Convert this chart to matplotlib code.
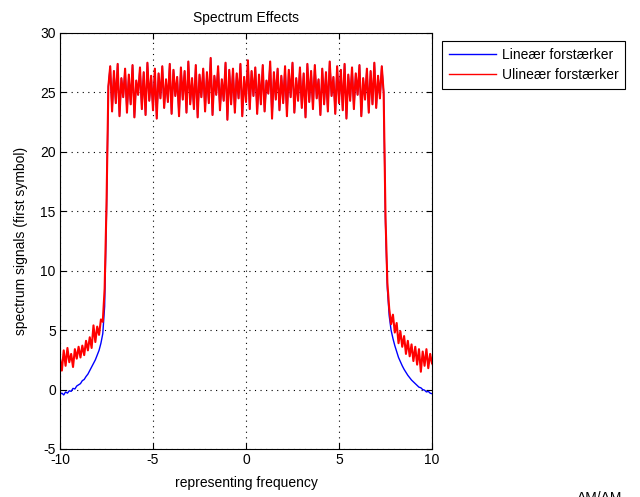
import numpy as np
import matplotlib
matplotlib.use("Agg")
import matplotlib.pyplot as plt

# frequency axis, step 0.1 from -10 to 10
freq = np.round(np.arange(-10.0, 10.05, 0.1), 1)

# lower skirt (-10.0 ... -7.5)
left_lin = [-0.4, -0.3, -0.45, -0.2, -0.3, -0.1, -0.15, 0.1, 0.05, 0.3,
            0.4, 0.5, 0.75, 0.85, 1.1, 1.3, 1.6, 1.9, 2.2, 2.5,
            2.9, 3.3, 3.9, 4.7, 7.0, 15.0]
left_nl = [2.6, 1.6, 3.3, 2.0, 3.5, 2.3, 3.0, 1.9, 3.4, 2.6,
           3.6, 2.7, 3.7, 2.9, 4.1, 3.3, 4.4, 3.5, 5.4, 4.0,
           5.3, 4.6, 5.9, 5.7, 8.5, 15.5]

# passband (-7.4 ... 7.4)
band = [25.5, 27.2, 23.4, 26.8, 24.1, 27.4, 23.0, 26.2, 24.6, 27.0,
        23.3, 26.5, 24.0, 27.3, 22.9, 26.0, 24.8, 27.1, 23.6, 26.7,
        23.1, 27.5, 24.3, 26.4, 23.5, 27.0, 22.8, 26.6, 24.5, 27.2,
        23.7, 26.1, 24.2, 27.4, 23.2, 26.9, 24.7, 26.3, 23.0, 27.1,
        24.4, 26.8, 23.3, 27.6, 24.0, 26.2, 23.6, 27.3, 22.9, 26.5,
        24.6, 27.0, 23.4, 26.7, 24.1, 27.9, 23.1, 26.4, 24.8, 27.2,
        23.5, 26.1, 24.3, 27.5, 22.7, 26.9, 24.0, 27.0, 23.3, 26.6,
        24.5, 27.4, 23.0, 26.3, 24.2, 27.7, 23.6, 26.8, 24.7, 27.1,
        23.2, 26.5, 24.0, 27.3, 23.4, 26.0, 24.9, 27.6, 22.8, 26.7,
        24.4, 27.0, 23.5, 26.4, 24.1, 27.2, 23.0, 26.9, 24.6, 27.5,
        23.3, 26.2, 24.3, 27.1, 23.7, 26.6, 22.9, 27.4, 24.2, 26.8,
        23.6, 27.3, 24.5, 26.1, 23.1, 27.0, 24.0, 26.7, 23.4, 27.6,
        24.7, 26.3, 23.2, 27.2, 24.1, 26.9, 23.5, 27.4, 22.8, 26.5,
        24.3, 27.1, 23.6, 26.6, 24.8, 27.3, 23.0, 26.2, 24.4, 27.0,
        23.3, 26.8, 24.0, 27.5, 23.7, 26.4, 24.5, 27.2, 25.0]

# upper skirt (7.5 ... 10.0)
right_lin = [14.0, 8.5, 6.2, 5.0, 4.3, 3.7, 3.2, 2.7, 2.35, 2.0,
             1.7, 1.45, 1.2, 1.0, 0.8, 0.65, 0.5, 0.35, 0.2, 0.15,
             0.0, -0.05, -0.2, -0.15, -0.3, -0.35]
right_nl = [14.5, 9.0, 6.8, 5.5, 6.3, 4.8, 5.6, 3.9, 4.9, 3.6,
            4.5, 3.0, 4.1, 2.8, 3.8, 2.4, 3.6, 2.1, 3.4, 1.5,
            3.2, 2.0, 3.4, 1.8, 3.0, 2.2]

linear = left_lin + band + right_lin
nonlinear = left_nl + band + right_nl

plt.rcParams['font.family'] = ['Liberation Sans', 'DejaVu Sans']
plt.rcParams['font.size'] = 10
plt.rcParams['axes.unicode_minus'] = False

fig = plt.figure(figsize=(6.4, 4.97), dpi=100)
ax = fig.add_axes([60/640, 1 - 449/497, 372/640, 416/497])

ax.plot(freq, linear, color='#0000ff', lw=1.0, label='Lineær forstærker')
ax.plot(freq, nonlinear, color='#ff0000', lw=1.5, label='Ulineær forstærker')

ax.set_xlim(-10, 10)
ax.set_ylim(-5, 30)
ax.set_xticks([-10, -5, 0, 5, 10])
ax.set_yticks([-5, 0, 5, 10, 15, 20, 25, 30])
ax.tick_params(direction='in', top=True, right=True, length=4, width=0.8,
               labelsize=10, pad=3)
ax.grid(True, color='black', linestyle=(0, (1, 4)), linewidth=0.8)
for s in ax.spines.values():
    s.set_linewidth(0.8)

ax.set_title("Spectrum Effects", fontsize=10, pad=8)
ax.set_xlabel("representing frequency", labelpad=6)
ax.set_ylabel("spectrum signals (first symbol)", labelpad=9)

leg = ax.legend(loc='upper left', bbox_to_anchor=(442/640, 1 - 41/497),
                bbox_transform=fig.transFigure, fancybox=False, framealpha=1,
                edgecolor='black', handlelength=3.4, handletextpad=0.4,
                labelspacing=0.45, borderaxespad=0, borderpad=0.5)
leg.get_frame().set_linewidth(0.8)
for line in leg.get_lines():
    line.set_linewidth(1.0)

fig.text(577/640, 1 - 491/497, "AM/AM", va='top', ha='left', fontsize=10)

fig.savefig("out.png", dpi=100)
